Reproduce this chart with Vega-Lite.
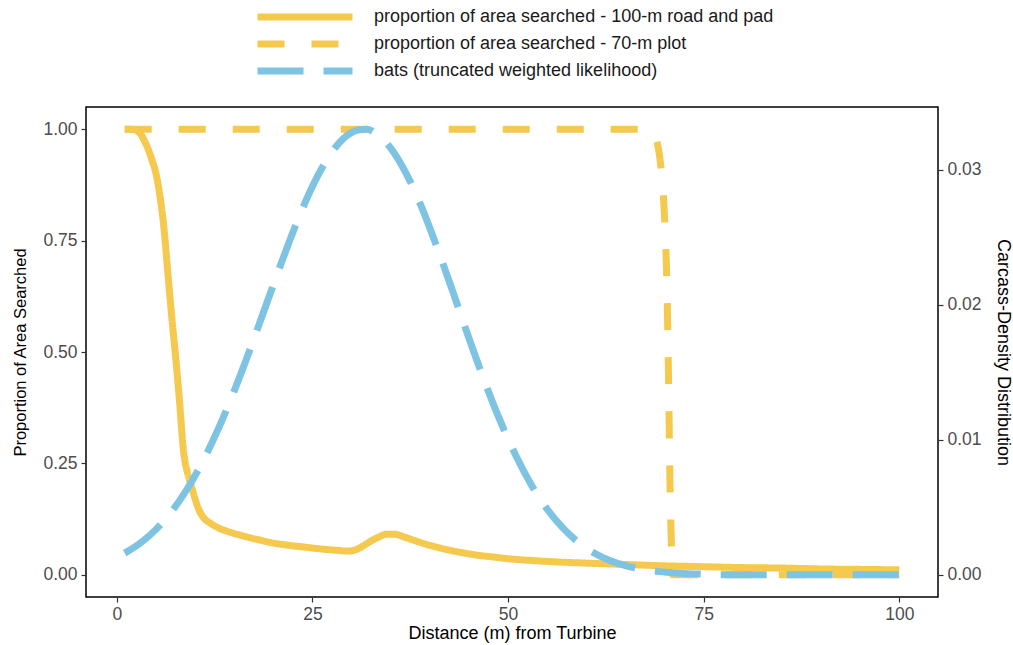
{
  "$schema": "https://vega.github.io/schema/vega-lite/v6.json",
  "width": 852,
  "height": 490,
  "autosize": {"type": "none"},
  "padding": {"left": 86, "top": 107, "right": 75, "bottom": 48},
  "background": "white",
  "config": {
    "font": "Liberation Sans",
    "view": {"stroke": "black", "strokeWidth": 1.5},
    "axis": {
      "grid": false,
      "domain": false,
      "tickColor": "#333333",
      "tickSize": 5,
      "tickWidth": 1.2,
      "labelColor": "#4d4d4d",
      "labelFontSize": 17.5,
      "labelFont": "Liberation Sans",
      "titleColor": "#000000",
      "titleFont": "Liberation Sans",
      "titleFontWeight": "normal",
      "titleFontSize": 18
    },
    "legend": {
      "labelFont": "Liberation Sans",
      "labelFontSize": 18,
      "labelColor": "#1a1a1a",
      "labelLimit": 600
    }
  },
  "datasets": {
    "search": [
      {"series": "proportion of area searched - 100-m road and pad", "x": 1, "v": 1.0},
      {"series": "proportion of area searched - 100-m road and pad", "x": 2, "v": 1.0},
      {"series": "proportion of area searched - 100-m road and pad", "x": 3, "v": 0.99},
      {"series": "proportion of area searched - 100-m road and pad", "x": 3.5, "v": 0.975},
      {"series": "proportion of area searched - 100-m road and pad", "x": 4, "v": 0.955},
      {"series": "proportion of area searched - 100-m road and pad", "x": 4.5, "v": 0.93},
      {"series": "proportion of area searched - 100-m road and pad", "x": 5, "v": 0.9},
      {"series": "proportion of area searched - 100-m road and pad", "x": 5.5, "v": 0.85},
      {"series": "proportion of area searched - 100-m road and pad", "x": 6, "v": 0.78},
      {"series": "proportion of area searched - 100-m road and pad", "x": 6.5, "v": 0.68},
      {"series": "proportion of area searched - 100-m road and pad", "x": 7, "v": 0.58},
      {"series": "proportion of area searched - 100-m road and pad", "x": 7.5, "v": 0.49},
      {"series": "proportion of area searched - 100-m road and pad", "x": 8, "v": 0.39},
      {"series": "proportion of area searched - 100-m road and pad", "x": 8.5, "v": 0.28},
      {"series": "proportion of area searched - 100-m road and pad", "x": 9, "v": 0.23},
      {"series": "proportion of area searched - 100-m road and pad", "x": 9.5, "v": 0.2},
      {"series": "proportion of area searched - 100-m road and pad", "x": 10, "v": 0.17},
      {"series": "proportion of area searched - 100-m road and pad", "x": 10.5, "v": 0.145},
      {"series": "proportion of area searched - 100-m road and pad", "x": 11, "v": 0.13},
      {"series": "proportion of area searched - 100-m road and pad", "x": 12, "v": 0.115},
      {"series": "proportion of area searched - 100-m road and pad", "x": 13, "v": 0.105},
      {"series": "proportion of area searched - 100-m road and pad", "x": 14, "v": 0.098},
      {"series": "proportion of area searched - 100-m road and pad", "x": 16, "v": 0.088},
      {"series": "proportion of area searched - 100-m road and pad", "x": 18, "v": 0.079},
      {"series": "proportion of area searched - 100-m road and pad", "x": 20, "v": 0.071},
      {"series": "proportion of area searched - 100-m road and pad", "x": 22, "v": 0.066},
      {"series": "proportion of area searched - 100-m road and pad", "x": 24, "v": 0.062},
      {"series": "proportion of area searched - 100-m road and pad", "x": 26, "v": 0.058},
      {"series": "proportion of area searched - 100-m road and pad", "x": 28, "v": 0.055},
      {"series": "proportion of area searched - 100-m road and pad", "x": 29.5, "v": 0.053},
      {"series": "proportion of area searched - 100-m road and pad", "x": 30.5, "v": 0.056},
      {"series": "proportion of area searched - 100-m road and pad", "x": 31.5, "v": 0.065},
      {"series": "proportion of area searched - 100-m road and pad", "x": 32.5, "v": 0.076},
      {"series": "proportion of area searched - 100-m road and pad", "x": 33.5, "v": 0.085},
      {"series": "proportion of area searched - 100-m road and pad", "x": 34.5, "v": 0.091},
      {"series": "proportion of area searched - 100-m road and pad", "x": 35.5, "v": 0.091},
      {"series": "proportion of area searched - 100-m road and pad", "x": 36.5, "v": 0.086},
      {"series": "proportion of area searched - 100-m road and pad", "x": 38, "v": 0.077},
      {"series": "proportion of area searched - 100-m road and pad", "x": 40, "v": 0.066},
      {"series": "proportion of area searched - 100-m road and pad", "x": 42, "v": 0.057},
      {"series": "proportion of area searched - 100-m road and pad", "x": 44, "v": 0.05},
      {"series": "proportion of area searched - 100-m road and pad", "x": 46, "v": 0.044},
      {"series": "proportion of area searched - 100-m road and pad", "x": 48, "v": 0.04},
      {"series": "proportion of area searched - 100-m road and pad", "x": 50, "v": 0.036},
      {"series": "proportion of area searched - 100-m road and pad", "x": 53, "v": 0.032},
      {"series": "proportion of area searched - 100-m road and pad", "x": 56, "v": 0.029},
      {"series": "proportion of area searched - 100-m road and pad", "x": 60, "v": 0.026},
      {"series": "proportion of area searched - 100-m road and pad", "x": 65, "v": 0.023},
      {"series": "proportion of area searched - 100-m road and pad", "x": 70, "v": 0.02},
      {"series": "proportion of area searched - 100-m road and pad", "x": 75, "v": 0.018},
      {"series": "proportion of area searched - 100-m road and pad", "x": 80, "v": 0.016},
      {"series": "proportion of area searched - 100-m road and pad", "x": 85, "v": 0.015},
      {"series": "proportion of area searched - 100-m road and pad", "x": 90, "v": 0.013},
      {"series": "proportion of area searched - 100-m road and pad", "x": 95, "v": 0.012},
      {"series": "proportion of area searched - 100-m road and pad", "x": 100, "v": 0.011},
      {"series": "proportion of area searched - 70-m plot", "x": 1, "v": 1.0},
      {"series": "proportion of area searched - 70-m plot", "x": 68, "v": 1.0},
      {"series": "proportion of area searched - 70-m plot", "x": 68.5, "v": 0.995},
      {"series": "proportion of area searched - 70-m plot", "x": 69, "v": 0.975},
      {"series": "proportion of area searched - 70-m plot", "x": 69.5, "v": 0.92},
      {"series": "proportion of area searched - 70-m plot", "x": 70, "v": 0.8},
      {"series": "proportion of area searched - 70-m plot", "x": 70.3, "v": 0.65},
      {"series": "proportion of area searched - 70-m plot", "x": 70.5, "v": 0.45},
      {"series": "proportion of area searched - 70-m plot", "x": 70.7, "v": 0.2},
      {"series": "proportion of area searched - 70-m plot", "x": 70.9, "v": 0.05},
      {"series": "proportion of area searched - 70-m plot", "x": 71, "v": 0.0},
      {"series": "proportion of area searched - 70-m plot", "x": 100, "v": 0.0}
    ],
    "bats": [
      {"series": "bats (truncated weighted likelihood)", "x": 1, "d": 0.0016},
      {"series": "bats (truncated weighted likelihood)", "x": 3, "d": 0.00235},
      {"series": "bats (truncated weighted likelihood)", "x": 5, "d": 0.00336},
      {"series": "bats (truncated weighted likelihood)", "x": 7, "d": 0.00469},
      {"series": "bats (truncated weighted likelihood)", "x": 9, "d": 0.00637},
      {"series": "bats (truncated weighted likelihood)", "x": 11, "d": 0.00842},
      {"series": "bats (truncated weighted likelihood)", "x": 13, "d": 0.01086},
      {"series": "bats (truncated weighted likelihood)", "x": 15, "d": 0.01363},
      {"series": "bats (truncated weighted likelihood)", "x": 17, "d": 0.01667},
      {"series": "bats (truncated weighted likelihood)", "x": 19, "d": 0.01987},
      {"series": "bats (truncated weighted likelihood)", "x": 21, "d": 0.02307},
      {"series": "bats (truncated weighted likelihood)", "x": 23, "d": 0.0261},
      {"series": "bats (truncated weighted likelihood)", "x": 25, "d": 0.02878},
      {"series": "bats (truncated weighted likelihood)", "x": 27, "d": 0.03089},
      {"series": "bats (truncated weighted likelihood)", "x": 29, "d": 0.03234},
      {"series": "bats (truncated weighted likelihood)", "x": 31, "d": 0.03297},
      {"series": "bats (truncated weighted likelihood)", "x": 32, "d": 0.033},
      {"series": "bats (truncated weighted likelihood)", "x": 33, "d": 0.03274},
      {"series": "bats (truncated weighted likelihood)", "x": 35, "d": 0.03161},
      {"series": "bats (truncated weighted likelihood)", "x": 37, "d": 0.0297},
      {"series": "bats (truncated weighted likelihood)", "x": 39, "d": 0.02716},
      {"series": "bats (truncated weighted likelihood)", "x": 41, "d": 0.02412},
      {"series": "bats (truncated weighted likelihood)", "x": 43, "d": 0.02086},
      {"series": "bats (truncated weighted likelihood)", "x": 45, "d": 0.01752},
      {"series": "bats (truncated weighted likelihood)", "x": 47, "d": 0.01432},
      {"series": "bats (truncated weighted likelihood)", "x": 49, "d": 0.01139},
      {"series": "bats (truncated weighted likelihood)", "x": 51, "d": 0.00881},
      {"series": "bats (truncated weighted likelihood)", "x": 53, "d": 0.00663},
      {"series": "bats (truncated weighted likelihood)", "x": 55, "d": 0.00485},
      {"series": "bats (truncated weighted likelihood)", "x": 57, "d": 0.00347},
      {"series": "bats (truncated weighted likelihood)", "x": 59, "d": 0.00239},
      {"series": "bats (truncated weighted likelihood)", "x": 61, "d": 0.00161},
      {"series": "bats (truncated weighted likelihood)", "x": 63, "d": 0.00105},
      {"series": "bats (truncated weighted likelihood)", "x": 65, "d": 0.00067},
      {"series": "bats (truncated weighted likelihood)", "x": 67, "d": 0.00042},
      {"series": "bats (truncated weighted likelihood)", "x": 69, "d": 0.00025},
      {"series": "bats (truncated weighted likelihood)", "x": 71, "d": 0.00015},
      {"series": "bats (truncated weighted likelihood)", "x": 73, "d": 0.00008},
      {"series": "bats (truncated weighted likelihood)", "x": 75, "d": 0.00004},
      {"series": "bats (truncated weighted likelihood)", "x": 77, "d": 0.0},
      {"series": "bats (truncated weighted likelihood)", "x": 80, "d": 0.0},
      {"series": "bats (truncated weighted likelihood)", "x": 85, "d": 0.0},
      {"series": "bats (truncated weighted likelihood)", "x": 90, "d": 0.0},
      {"series": "bats (truncated weighted likelihood)", "x": 95, "d": 0.0},
      {"series": "bats (truncated weighted likelihood)", "x": 100, "d": 0.0}
    ]
  },
  "encoding": {
    "x": {
      "field": "x",
      "type": "quantitative",
      "scale": {"domain": [-3.95, 104.95], "nice": false, "zero": false},
      "axis": {
        "values": [0, 25, 50, 75, 100],
        "title": "Distance (m) from Turbine",
        "labelPadding": 3,
        "titlePadding": 2
      }
    },
    "color": {
      "field": "series",
      "type": "nominal",
      "scale": {
        "domain": [
          "proportion of area searched - 100-m road and pad",
          "proportion of area searched - 70-m plot",
          "bats (truncated weighted likelihood)"
        ],
        "range": ["#F5C94E", "#F5C94E", "#7EC4E2"]
      },
      "legend": {
        "title": null,
        "orient": "none",
        "legendX": 206,
        "legendY": -103,
        "symbolType": "M-5,0H5",
        "symbolSize": 361,
        "symbolStrokeWidth": 7,
        "labelOffset": 56,
        "rowPadding": -1
      }
    },
    "strokeDash": {
      "field": "series",
      "type": "nominal",
      "scale": {
        "domain": [
          "proportion of area searched - 100-m road and pad",
          "proportion of area searched - 70-m plot",
          "bats (truncated weighted likelihood)"
        ],
        "range": [[1, 0], [27, 27], [46, 20]]
      },
      "legend": {
        "title": null,
        "orient": "none",
        "legendX": 206,
        "legendY": -103,
        "symbolType": "M-5,0H5",
        "symbolSize": 361,
        "symbolStrokeWidth": 7,
        "labelOffset": 56,
        "rowPadding": -1
      }
    }
  },
  "layer": [
    {
      "data": {"name": "search"},
      "mark": {"type": "line", "strokeWidth": 7, "strokeCap": "butt", "interpolate": "monotone"},
      "encoding": {
        "y": {
          "field": "v",
          "type": "quantitative",
          "scale": {"domain": [-0.05, 1.05], "nice": false, "zero": false},
          "axis": {
            "orient": "left",
            "values": [0, 0.25, 0.5, 0.75, 1],
            "format": ".2f",
            "title": "Proportion of Area Searched",
            "titleFontSize": 16.5,
            "labelPadding": 4,
            "titlePadding": 14
          }
        }
      }
    },
    {
      "data": {"name": "bats"},
      "mark": {"type": "line", "strokeWidth": 7, "strokeCap": "butt", "interpolate": "monotone"},
      "encoding": {
        "y": {
          "field": "d",
          "type": "quantitative",
          "scale": {"domain": [-0.00165, 0.03465], "nice": false, "zero": false},
          "axis": {
            "orient": "right",
            "values": [0, 0.01, 0.02, 0.03],
            "format": ".2f",
            "title": "Carcass-Density Distribution",
            "labelPadding": 4,
            "titlePadding": 12
          }
        }
      }
    }
  ],
  "resolve": {"scale": {"y": "independent"}}
}
